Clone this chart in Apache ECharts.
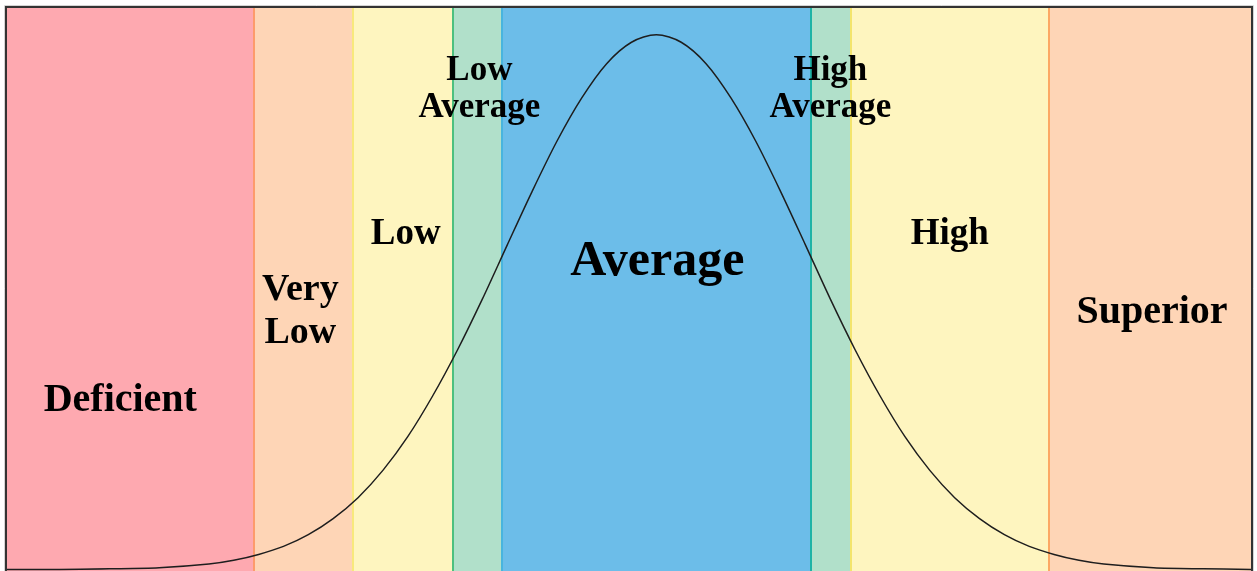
<!DOCTYPE html>
<html>
<head>
<meta charset="utf-8">
<script src="https://cdn.jsdelivr.net/npm/echarts@6/dist/echarts.min.js"></script>
<style>
  html, body { margin: 0; padding: 0; background: #ffffff; }
  #main { width: 1257px; height: 571px; }
</style>
</head>
<body>
<div id="main"></div>
<script>
// score bands
var bandNames = ['Deficient', 'Very Low', 'Low', 'Low Average', 'Average', 'High Average', 'High', 'Superior'];
var bandBounds = [34.7, 59.5, 69.5, 79.5, 84.5, 115.5, 119.5, 139.5, 159.8];
var bandLabels = ['Deficient', 'Very\nLow', 'Low', 'Low\nAverage', 'Average', 'High\nAverage', 'High', 'Superior'];

// bell curve (score, % of peak height)
var curveX = [34.7, 40, 45, 50, 55, 57.5, 60, 62.5, 65, 67.5, 70, 72.5, 75, 77.5, 80, 82.5, 85, 87.5, 90, 92.5, 95, 97.5, 100,
              102.5, 105, 107.5, 110, 112.5, 115, 117.5, 120, 122.5, 125, 127.5, 130, 132.5, 135, 137.5, 140, 142.5, 145, 150, 155, 159.8];
var curveY = [0.1, 0.1, 0.2, 0.4, 1.1, 1.8, 2.9, 4.4, 6.6, 9.6, 13.5, 18.6, 24.9, 32.5, 41.1, 50.6, 60.7, 70.7, 80.1, 88.2, 94.6, 98.6, 100,
              98.6, 94.6, 88.2, 80.1, 70.7, 60.7, 50.6, 41.1, 32.5, 24.9, 18.6, 13.5, 9.6, 6.6, 4.4, 2.9, 1.8, 1.1, 0.4, 0.2, 0.1];

var fills = ['#fea9b0', '#fed5b6', '#fef5bf', '#b1e0ca', '#6cbde9', '#b1e0ca', '#fef5bf', '#fed5b6'];
var edges = [null, '#fd9b6c', '#f8e87c', '#4dc07e', '#48b5de', '#1fb3a6', '#f3e46c', '#fca864'];

// label layout (height in % of peak, font size, line height, x nudge)
var labelLayout = [
    {y: 31.6, size: 40, lh: 40, dx: -10},
    {y: 48.2, size: 38, lh: 43, dx: -3},
    {y: 62.6, size: 37, lh: 40, dx: 3},
    {y: 89.8, size: 35, lh: 37, dx: 2},
    {y: 57.5, size: 50, lh: 52, dx: 1},
    {y: 89.8, size: 35, lh: 37, dx: 0},
    {y: 62.6, size: 37, lh: 40, dx: 0},
    {y: 48.1, size: 40, lh: 40, dx: 2}
];

var chart = echarts.init(document.getElementById('main'));

var areas = [];
var lines = [];
var labelPts = [];
for (var i = 0; i < bandNames.length; i++) {
    areas.push([
        {name: bandNames[i], xAxis: bandBounds[i], itemStyle: {color: fills[i]}},
        {xAxis: bandBounds[i + 1]}
    ]);
    if (edges[i]) {
        lines.push({xAxis: bandBounds[i], lineStyle: {color: edges[i]}});
    }
    var L = labelLayout[i];
    labelPts.push({
        value: [(bandBounds[i] + bandBounds[i + 1]) / 2, L.y],
        label: {
            formatter: bandLabels[i],
            fontSize: L.size,
            lineHeight: L.lh,
            offset: [L.dx, 0]
        }
    });
}

var option = {
    animation: false,
    grid: {
        left: 7, right: 6, top: 8, bottom: 0,
        show: false
    },
    graphic: [
        {
            type: 'rect',
            z: 100,
            silent: true,
            shape: {x: 4.5, y: 5.5, width: 1249, height: 575},
            style: {fill: 'none', stroke: '#d4d4d4', lineWidth: 1}
        },
        {
            type: 'rect',
            z: 101,
            silent: true,
            shape: {x: 6, y: 7, width: 1246, height: 575},
            style: {fill: 'none', stroke: '#333333', lineWidth: 2}
        }
    ],
    xAxis: {
        type: 'value',
        min: bandBounds[0],
        max: bandBounds[bandBounds.length - 1],
        axisLine: {show: false},
        axisTick: {show: false},
        axisLabel: {show: false},
        splitLine: {show: false}
    },
    yAxis: {
        type: 'value',
        min: -0.2,
        max: 105,
        axisLine: {show: false},
        axisTick: {show: false},
        axisLabel: {show: false},
        splitLine: {show: false}
    },
    series: [
        {
            type: 'line',
            data: [],
            silent: true,
            markArea: {
                silent: true,
                label: {show: false},
                data: areas
            },
            markLine: {
                silent: true,
                symbol: 'none',
                label: {show: false},
                lineStyle: {type: 'solid', width: 2},
                data: lines
            }
        },
        {
            type: 'line',
            smooth: 0.3,
            showSymbol: false,
            lineStyle: {color: '#1e1e1e', width: 1.5},
            data: curveX.map(function (x, k) { return [x, curveY[k]]; }),
            z: 5
        },
        {
            type: 'scatter',
            symbolSize: 0,
            silent: true,
            z: 6,
            itemStyle: {opacity: 1},
            label: {
                show: true,
                position: 'inside',
                color: '#000000',
                textBorderWidth: 0,
                fontFamily: 'Liberation Serif',
                fontWeight: 'bold',
                align: 'center',
                verticalAlign: 'middle'
            },
            data: labelPts
        }
    ]
};

chart.setOption(option);
</script>
</body>
</html>
